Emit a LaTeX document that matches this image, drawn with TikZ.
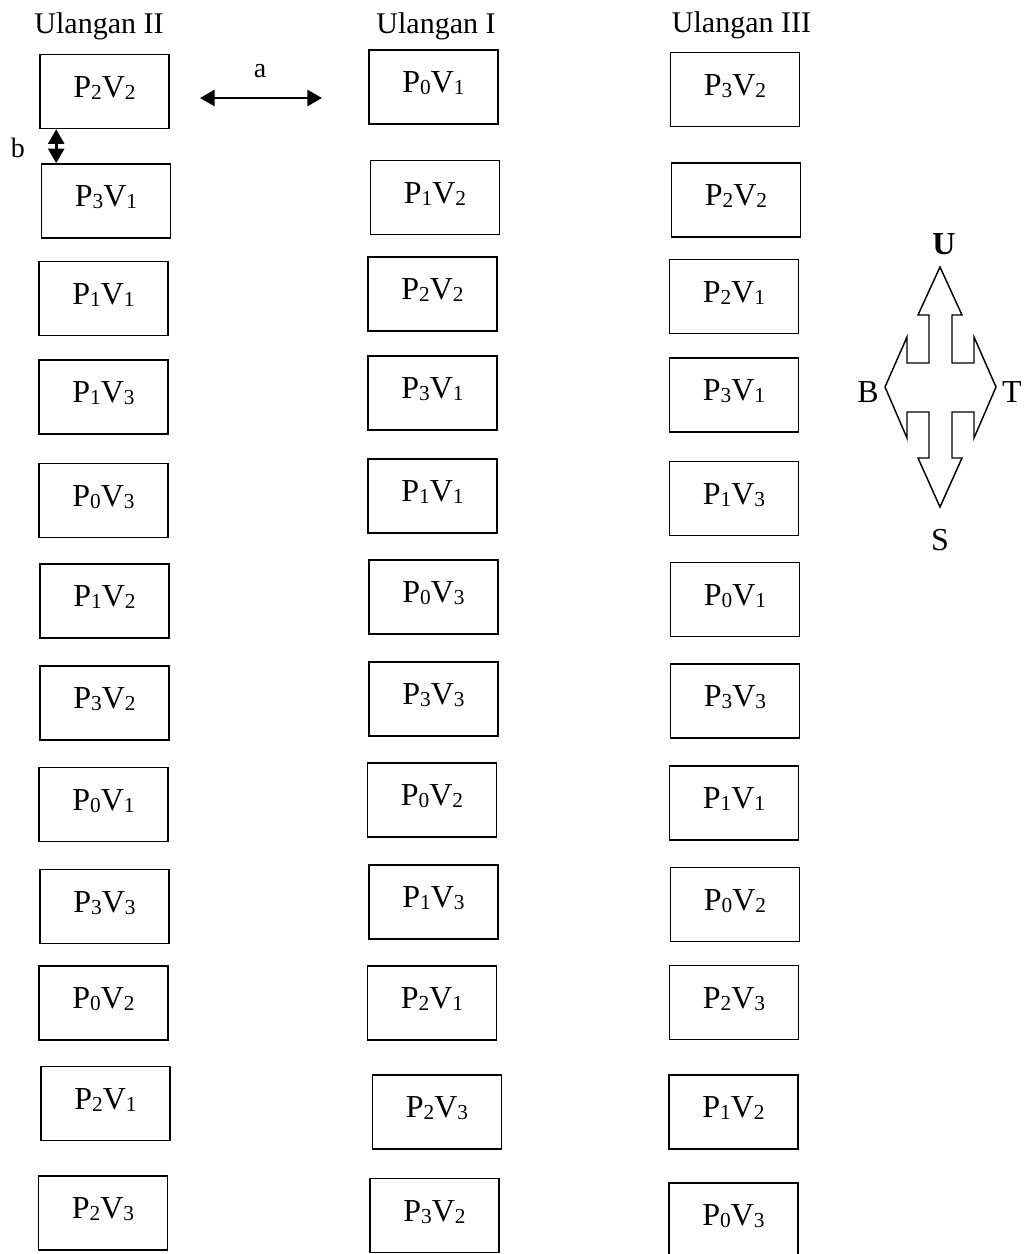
\documentclass[tikz,border=0pt]{standalone}
\usepackage{fontspec}
\setmainfont{Liberation Serif}
\usetikzlibrary{arrows.meta}
\usetikzlibrary{positioning}
\newcommand{\lowidx}[1]{\raisebox{-1.5pt}{\fontsize{16}{16}\selectfont #1}}
\newcommand{\pv}[2]{P\lowidx{#1}V\lowidx{#2}}
\tikzset{
  petak/.style={draw, line width=1.2pt, inner sep=0,
    minimum width=96.75pt, text height=32pt, text depth=23.5pt,
    font=\fontsize{24}{28}\selectfont},
  heading/.style={anchor=base, inner sep=0, font=\fontsize{22.5}{26}\selectfont},
  lbl/.style={anchor=base, inner sep=0, font=\fontsize{21}{24}\selectfont},
  wind/.style={anchor=base, inner sep=0, font=\fontsize{24}{28}\selectfont},
  dimarrow/.style={{Triangle[length=11pt,width=12pt]}-{Triangle[length=11pt,width=12pt]},
    line width=2.2pt},
  compass/.style={line width=1.1pt, line join=miter}
}
\begin{document}
\begin{tikzpicture}[x=0.75pt, y=-0.75pt]
  \useasboundingbox (0,0) rectangle (1025,1254);

  % headings
  \node[heading] (hII)  at (99,33)    {Ulangan II};
  \node[heading] (hI)   at (436,33)   {Ulangan I};
  \node[heading] (hIII) at (741.5,32) {Ulangan III};

  % Ulangan II
  \node[petak] (two1)  at (104.5,91.5)  {\pv22};
  \node[petak] (two2)  at (106,201)     {\pv31};
  \node[petak] (two3)  at (103.5,298.5) {\pv11};
  \node[petak] (two4)  at (103.5,397)   {\pv13};
  \node[petak] (two5)  at (103.5,500.5) {\pv03};
  \node[petak] (two6)  at (104.5,601)   {\pv12};
  \node[petak] (two7)  at (104.5,703)   {\pv32};
  \node[petak] (two8)  at (103.5,804.5) {\pv01};
  \node[petak] (two9)  at (104.5,906.5) {\pv33};
  \node[petak] (two10) at (103.5,1003)  {\pv02};
  \node[petak] (two11) at (105.5,1103.5){\pv21};
  \node[petak] (two12) at (103,1213)    {\pv23};

  % Ulangan I
  \node[petak] (one1)  at (433.5,87)    {\pv01};
  \node[petak] (one2)  at (435,197.5)   {\pv12};
  \node[petak] (one3)  at (432.5,294)   {\pv22};
  \node[petak] (one4)  at (432.5,393)   {\pv31};
  \node[petak] (one5)  at (432.5,496)   {\pv11};
  \node[petak] (one6)  at (433.5,597)   {\pv03};
  \node[petak] (one7)  at (433.5,699)   {\pv33};
  \node[petak] (one8)  at (432,800)     {\pv02};
  \node[petak] (one9)  at (433.5,902)   {\pv13};
  \node[petak] (one10) at (432,1003)    {\pv21};
  \node[petak] (one11) at (437,1112)    {\pv23};
  \node[petak] (one12) at (434.5,1215.5){\pv32};

  % Ulangan III
  \node[petak] (three1)  at (735,89.5)    {\pv32};
  \node[petak] (three2)  at (736,200)     {\pv22};
  \node[petak] (three3)  at (734,296.5)   {\pv21};
  \node[petak] (three4)  at (734,395)     {\pv31};
  \node[petak] (three5)  at (734,498.5)   {\pv13};
  \node[petak] (three6)  at (735,599.5)   {\pv01};
  \node[petak] (three7)  at (735,701)     {\pv33};
  \node[petak] (three8)  at (734,803)     {\pv11};
  \node[petak] (three9)  at (735,904.5)   {\pv02};
  \node[petak] (three10) at (734,1002.5)  {\pv23};
  \node[petak] (three11) at (733.5,1112)  {\pv12};
  \node[petak] (three12) at (733.5,1220)  {\pv03};

  % jarak a dan b
  \coordinate (aL) at (200,98);
  \coordinate (aR) at (322,98);
  \draw[dimarrow] (aL) -- (aR);
  \node[lbl] (alab) at (260,77) {a};
  \coordinate (bTop) at ([xshift=12.75pt]two1.south west);
  \draw[dimarrow] (bTop) -- (bTop |- two2.north);
  \node[lbl] (blab) at (18,157) {b};

  % mata angin
  \draw[compass] (940,267) -- (962,315) -- (952,315) -- (952,363) -- (974,363)
    -- (974,337) -- (996,387) -- (974,438) -- (974,412) -- (952,412)
    -- (952,458) -- (962,458) -- (940,507) -- (918,458) -- (929,458)
    -- (929,412) -- (907,412) -- (907,438) -- (885,387) -- (907,337)
    -- (907,363) -- (929,363) -- (929,315) -- (918,315) -- cycle;
  \node[wind] (nU) at (944,254) {\textbf{U}};
  \node[wind] (nB) at (868,402) {B};
  \node[wind] (nT) at (1012,402) {T};
  \node[wind] (nS) at (940,550) {S};
\end{tikzpicture}
\end{document}
